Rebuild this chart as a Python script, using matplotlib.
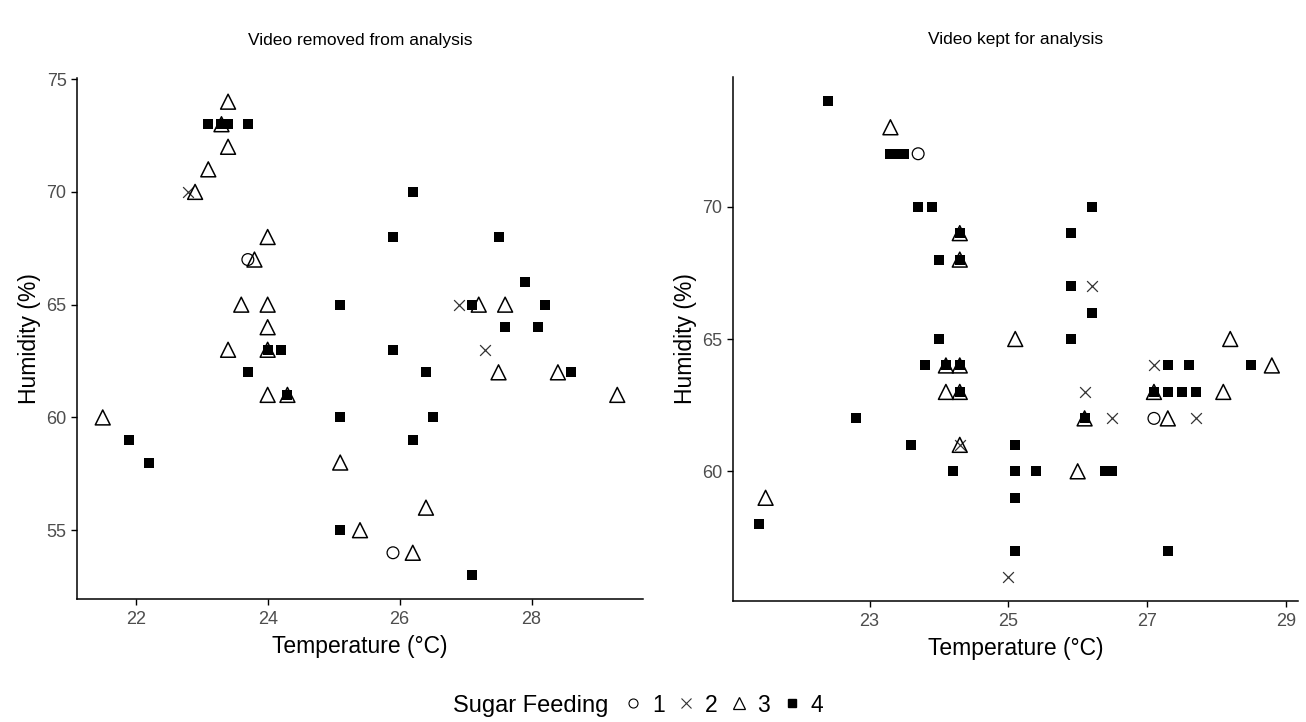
import matplotlib
matplotlib.use("Agg")
import matplotlib.pyplot as plt
from matplotlib.lines import Line2D

plt.rcParams['font.family'] = ['Liberation Sans', 'DejaVu Sans']

# ---- Data: Video removed from analysis ----
removed_temp = [23.7, 25.9,
                22.8, 26.9, 27.3,
                23.4, 23.3, 23.4, 23.1, 22.9, 24.0, 23.8, 23.6, 24.0, 24.0, 23.4, 24.0,
                24.0, 24.3, 21.5, 25.1, 25.4, 26.4, 26.2, 27.2, 27.6, 27.5, 28.4, 29.3,
                23.1, 23.3, 23.4, 23.7, 25.1, 24.0, 24.2, 23.7, 24.3, 21.9, 22.2, 25.1,
                25.1, 26.2, 25.9, 27.5, 27.9, 27.1, 28.2, 27.6, 28.1, 25.9, 26.4, 28.6,
                26.5, 26.2, 27.1]
removed_hum = [67, 54,
               70, 65, 63,
               74, 73, 72, 71, 70, 68, 67, 65, 65, 64, 63, 63,
               61, 61, 60, 58, 55, 56, 54, 65, 65, 62, 62, 61,
               73, 73, 73, 73, 65, 63, 63, 62, 61, 59, 58, 60,
               55, 70, 68, 68, 66, 65, 65, 64, 64, 63, 62, 62,
               60, 59, 53]
removed_sugar = [1, 1,
                 2, 2, 2,
                 3, 3, 3, 3, 3, 3, 3, 3, 3, 3, 3, 3,
                 3, 3, 3, 3, 3, 3, 3, 3, 3, 3, 3, 3,
                 4, 4, 4, 4, 4, 4, 4, 4, 4, 4, 4, 4,
                 4, 4, 4, 4, 4, 4, 4, 4, 4, 4, 4, 4,
                 4, 4, 4]

# ---- Data: Video kept for analysis ----
kept_temp = [23.7, 27.1,
             26.2, 27.1, 26.1, 26.5, 27.7, 25.0, 24.3,
             23.3, 24.3, 24.3, 25.1, 28.2, 24.1, 24.3, 28.8, 24.1, 24.3, 27.1, 28.1,
             26.1, 27.3, 24.3, 21.5, 26.0,
             22.4, 23.3, 23.4, 23.5, 23.7, 23.9, 24.0, 24.3, 24.3, 24.0, 23.8, 24.1,
             24.3, 24.3, 22.8, 23.6, 24.2, 21.4, 25.1, 25.1, 25.1, 25.1, 26.2, 25.9,
             25.9, 26.2, 25.9, 27.3, 27.6, 28.5, 27.1, 27.3, 27.5, 27.7, 26.1, 25.4,
             26.4, 26.5, 27.3]
kept_hum = [72, 62,
            67, 64, 63, 62, 62, 56, 61,
            73, 69, 68, 65, 65, 64, 64, 64, 63, 63, 63, 63,
            62, 62, 61, 59, 60,
            74, 72, 72, 72, 70, 70, 68, 69, 68, 65, 64, 64,
            64, 63, 62, 61, 60, 58, 61, 60, 59, 57, 70, 69,
            67, 66, 65, 64, 64, 64, 63, 63, 63, 63, 62, 60,
            60, 60, 57]
kept_sugar = [1, 1,
              2, 2, 2, 2, 2, 2, 2,
              3, 3, 3, 3, 3, 3, 3, 3, 3, 3, 3, 3,
              3, 3, 3, 3, 3,
              4, 4, 4, 4, 4, 4, 4, 4, 4, 4, 4, 4,
              4, 4, 4, 4, 4, 4, 4, 4, 4, 4, 4, 4,
              4, 4, 4, 4, 4, 4, 4, 4, 4, 4, 4, 4,
              4, 4, 4]

panel_titles = ["Video removed from analysis", "Video kept for analysis"]
feeding_levels = [1, 2, 3, 4]

styles = {
    1: dict(marker='o', s=72, facecolors='none', edgecolors='black', linewidths=0.9),
    2: dict(marker='x', s=60, c='#333333', linewidths=0.9),
    3: dict(marker='^', s=115, facecolors='none', edgecolors='black', linewidths=1.1),
    4: dict(marker='s', s=62, c='black', linewidths=0),
}

W, H = 1306, 722
fig = plt.figure(figsize=(W / 100, H / 100), dpi=100)

ax1 = fig.add_axes([77 / W, 1 - 599 / H, (643 - 77) / W, (599 - 78) / H])
ax2 = fig.add_axes([733 / W, 1 - 601 / H, (1297.5 - 733) / W, (601 - 77) / H])

datasets = [(removed_temp, removed_hum, removed_sugar),
            (kept_temp, kept_hum, kept_sugar)]

grey = '#4D4D4D'
for ax, (tx, hy, sg), title in zip([ax1, ax2], datasets, panel_titles):
    for lvl in feeding_levels:
        xs = [a for a, g in zip(tx, sg) if g == lvl]
        ys = [b for b, g in zip(hy, sg) if g == lvl]
        ax.scatter(xs, ys, zorder=2 + lvl, clip_on=False, **styles[lvl])
    xr = max(tx) - min(tx)
    yr = max(hy) - min(hy)
    ax.set_xlim(min(tx) - 0.05 * xr, max(tx) + 0.05 * xr)
    ax.set_ylim(min(hy) - 0.05 * yr, max(hy) + 0.05 * yr)
    for side in ['top', 'right']:
        ax.spines[side].set_visible(False)
    for side in ['left', 'bottom']:
        ax.spines[side].set_linewidth(1.1)
    ax.tick_params(axis='both', length=4, width=1.0, colors='black',
                   labelcolor=grey, labelsize=13, pad=3.5)
    ax.tick_params(axis='x', pad=5)
    ax.set_xlabel("Temperature (°C)", fontsize=16.5, labelpad=5)
    ax.set_ylabel("Humidity (%)", fontsize=16.5, labelpad=4)
    ax.set_title(title, fontsize=12.5, pad=24)

ax1.set_xticks([22, 24, 26, 28])
ax1.set_yticks([55, 60, 65, 70, 75])
ax2.set_xticks([23, 25, 27, 29])
ax2.set_yticks([60, 65, 70])

# ---- Legend ----
handles = [
    Line2D([], [], linestyle='none', marker='o', markersize=6.5, markerfacecolor='none',
           markeredgecolor='black', markeredgewidth=0.8),
    Line2D([], [], linestyle='none', marker='x', markersize=7, color='#333333',
           markeredgewidth=0.8),
    Line2D([], [], linestyle='none', marker='^', markersize=9, markerfacecolor='none',
           markeredgecolor='black', markeredgewidth=0.9),
    Line2D([], [], linestyle='none', marker='s', markersize=6, color='black'),
]
fig.text(608 / W, 1 - 706 / H, "Sugar Feeding", ha='right', va='center', fontsize=17)
fig.legend(handles, [str(v) for v in feeding_levels], loc='center left',
           bbox_to_anchor=(622 / W, 1 - 705 / H), ncol=4, frameon=False,
           fontsize=16.5, handlelength=1.0, handletextpad=0.3, columnspacing=0.45,
           borderaxespad=0, borderpad=0)

fig.savefig("out.png", dpi=100)
